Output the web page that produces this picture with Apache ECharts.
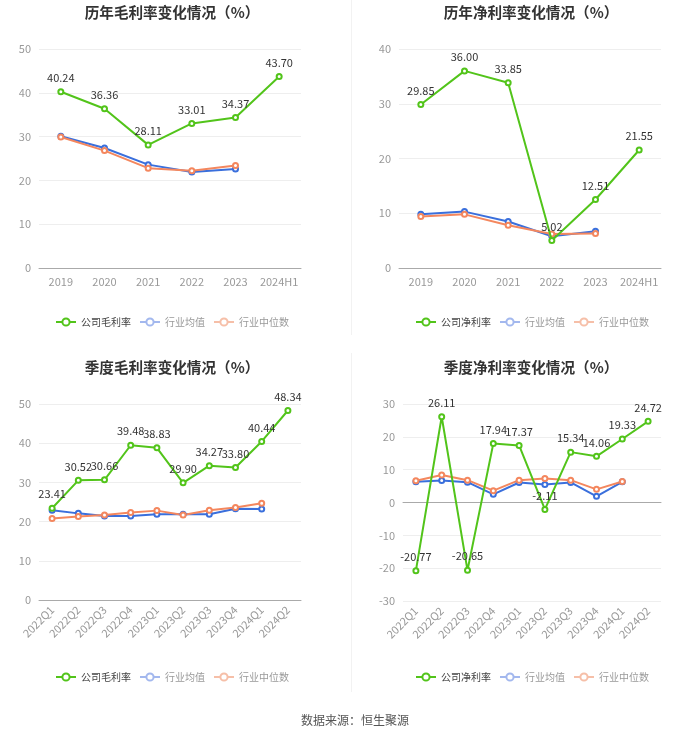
<!DOCTYPE html>
<html><head><meta charset="utf-8">
<script src="https://cdn.jsdelivr.net/npm/echarts@6/dist/echarts.min.js"></script>
<style>html,body{margin:0;padding:0;background:#fff}#c{width:700px;height:733px}</style>
</head><body><div id="c"></div>
<script>
const annualCats = ['2019','2020','2021','2022','2023','2024H1'];
const grossCompany = [40.24,36.36,28.11,33.01,34.37,43.70];
const grossAvg = [30.1,27.4,23.6,21.9,22.6,null];
const grossMed = [29.9,26.8,22.8,22.2,23.4,null];
const netCompany = [29.85,36.00,33.85,5.02,12.51,21.55];
const netAvg = [9.8,10.3,8.5,5.8,6.7,null];
const netMed = [9.4,9.8,7.8,6.2,6.3,null];
const quarterCats = ['2022Q1','2022Q2','2022Q3','2022Q4','2023Q1','2023Q2','2023Q3','2023Q4','2024Q1','2024Q2'];
const qGrossCompany = [23.41,30.52,30.66,39.48,38.83,29.90,34.27,33.80,40.44,48.34];
const qGrossAvg = [22.9,22.1,21.4,21.4,21.9,21.9,21.9,23.3,23.2,null];
const qGrossMed = [20.8,21.3,21.7,22.3,22.8,21.7,22.9,23.6,24.7,null];
const qNetCompany = [-20.77,26.11,-20.65,17.94,17.37,-2.11,15.34,14.06,19.33,24.72];
const qNetAvg = [6.3,6.7,6.2,2.5,6.1,5.5,6.1,1.9,6.3,null];
const qNetMed = [6.6,8.4,6.8,3.6,6.8,7.3,6.8,4.0,6.4,null];

const FONT = '"Noto Sans CJK SC","Noto Sans",sans-serif';
const GREEN = '#52c41a', BLUE = '#3a6fdc', ORANGE = '#f4875e';
const chart = echarts.init(document.getElementById('c'), null, {renderer:'canvas'});

const grids = [
  {left:39, top:49, width:262, height:219},
  {left:399, top:49, width:262, height:219},
  {left:39, top:404, width:262, height:196},
  {left:403, top:404, width:258, height:197}
];
const titles = [
  {text:'历年毛利率变化情况（%）', left:167, top:0},
  {text:'历年净利率变化情况（%）', left:526, top:0},
  {text:'季度毛利率变化情况（%）', left:167, top:355},
  {text:'季度净利率变化情况（%）', left:526, top:355}
].map(t => ({text:t.text, left:t.left, top:t.top, textAlign:'center',
  textStyle:{fontFamily:FONT, fontSize:14.6, fontWeight:'bold', color:'#333'}}));

function xAx(gi, cats, rotate, opts) {
  return Object.assign({
    type:'category', gridIndex:gi, data:cats, boundaryGap:true,
    axisLine:{lineStyle:{color:'#aaa'}},
    axisTick:{alignWithLabel:true, lineStyle:{color:'#aaa'}},
    axisLabel:{color:'#999', fontSize:11, fontFamily:FONT, rotate:rotate, margin:8, interval:0}
  }, opts||{});
}
function yAx(gi, min, max) {
  return {type:'value', gridIndex:gi, min:min, max:max, interval:10,
    axisLine:{show:false}, axisTick:{show:false},
    axisLabel:{color:'#999', fontSize:11, fontFamily:FONT},
    splitLine:{lineStyle:{color:'#eee'}}};
}
const xAxes = [
  xAx(0, annualCats, 0),
  xAx(1, annualCats, 0),
  xAx(2, quarterCats, 45),
  xAx(3, quarterCats, 45, {axisLine:{show:false, onZero:false}, axisTick:{show:false}}),
  xAx(3, quarterCats, 45, {axisLine:{onZero:true, lineStyle:{color:'#aaa'}}, axisLabel:{show:false}})
];
const yAxes = [yAx(0,0,50), yAx(1,0,40), yAx(2,0,50), yAx(3,-30,30)];

function line(name, data, color, xi, yi, withLabel) {
  return {
    type:'line', name:name, data:data, xAxisIndex:xi, yAxisIndex:yi,
    symbol:'emptyCircle', symbolSize:5, z: withLabel ? 5 : 3,
    lineStyle:{width:2, color:color}, itemStyle:{color:color, borderWidth:1.5},
    label: withLabel ? {show:true, position:'top', color:'#333', fontSize:11, fontFamily:FONT,
      formatter:p => p.value.toFixed(2)} : {show:false},
    emphasis:{disabled:true}
  };
}
const series = [
  line('公司毛利率', grossCompany, GREEN, 0, 0, true),
  line('行业均值', grossAvg, BLUE, 0, 0, false),
  line('行业中位数', grossMed, ORANGE, 0, 0, false),
  line('公司净利率', netCompany, GREEN, 1, 1, true),
  line('行业均值', netAvg, BLUE, 1, 1, false),
  line('行业中位数', netMed, ORANGE, 1, 1, false),
  line('公司毛利率', qGrossCompany, GREEN, 2, 2, true),
  line('行业均值', qGrossAvg, BLUE, 2, 2, false),
  line('行业中位数', qGrossMed, ORANGE, 2, 2, false),
  line('公司净利率', qNetCompany, GREEN, 3, 3, true),
  line('行业均值', qNetAvg, BLUE, 3, 3, false),
  line('行业中位数', qNetMed, ORANGE, 3, 3, false)
];
function legend(first, left, top) {
  return {left:left, top:top, orient:'horizontal', itemWidth:20, itemHeight:9, itemGap:8,
    textStyle:{fontFamily:FONT, fontSize:10, color:'#444'},
    data:[
      {name:first},
      {name:'行业均值', itemStyle:{color:'#a3b8ee', borderColor:'#a3b8ee'}, lineStyle:{color:'#a3b8ee'}, textStyle:{color:'#999'}},
      {name:'行业中位数', itemStyle:{color:'#f6bfa8', borderColor:'#f6bfa8'}, lineStyle:{color:'#f6bfa8'}, textStyle:{color:'#999'}}
    ]};
}
const legends = [
  legend('公司毛利率', 50, 312),
  legend('公司净利率', 410, 312),
  legend('公司毛利率', 50, 667),
  legend('公司净利率', 410, 667)
];
chart.setOption({
  animation:false,
  title: titles.concat([{text:'数据来源：恒生聚源', left:350, top:709, textAlign:'center',
    textStyle:{fontFamily:FONT, fontSize:12, fontWeight:'normal', color:'#555'}}]),
  grid: grids, xAxis: xAxes, yAxis: yAxes, series: series, legend: legends,
  graphic:[
    {type:'line', shape:{x1:351.5,y1:0,x2:351.5,y2:335}, style:{stroke:'#f2f2f2', lineWidth:1}, silent:true},
    {type:'line', shape:{x1:351.5,y1:353,x2:351.5,y2:692}, style:{stroke:'#f2f2f2', lineWidth:1}, silent:true}
  ]
});
</script></body></html>
